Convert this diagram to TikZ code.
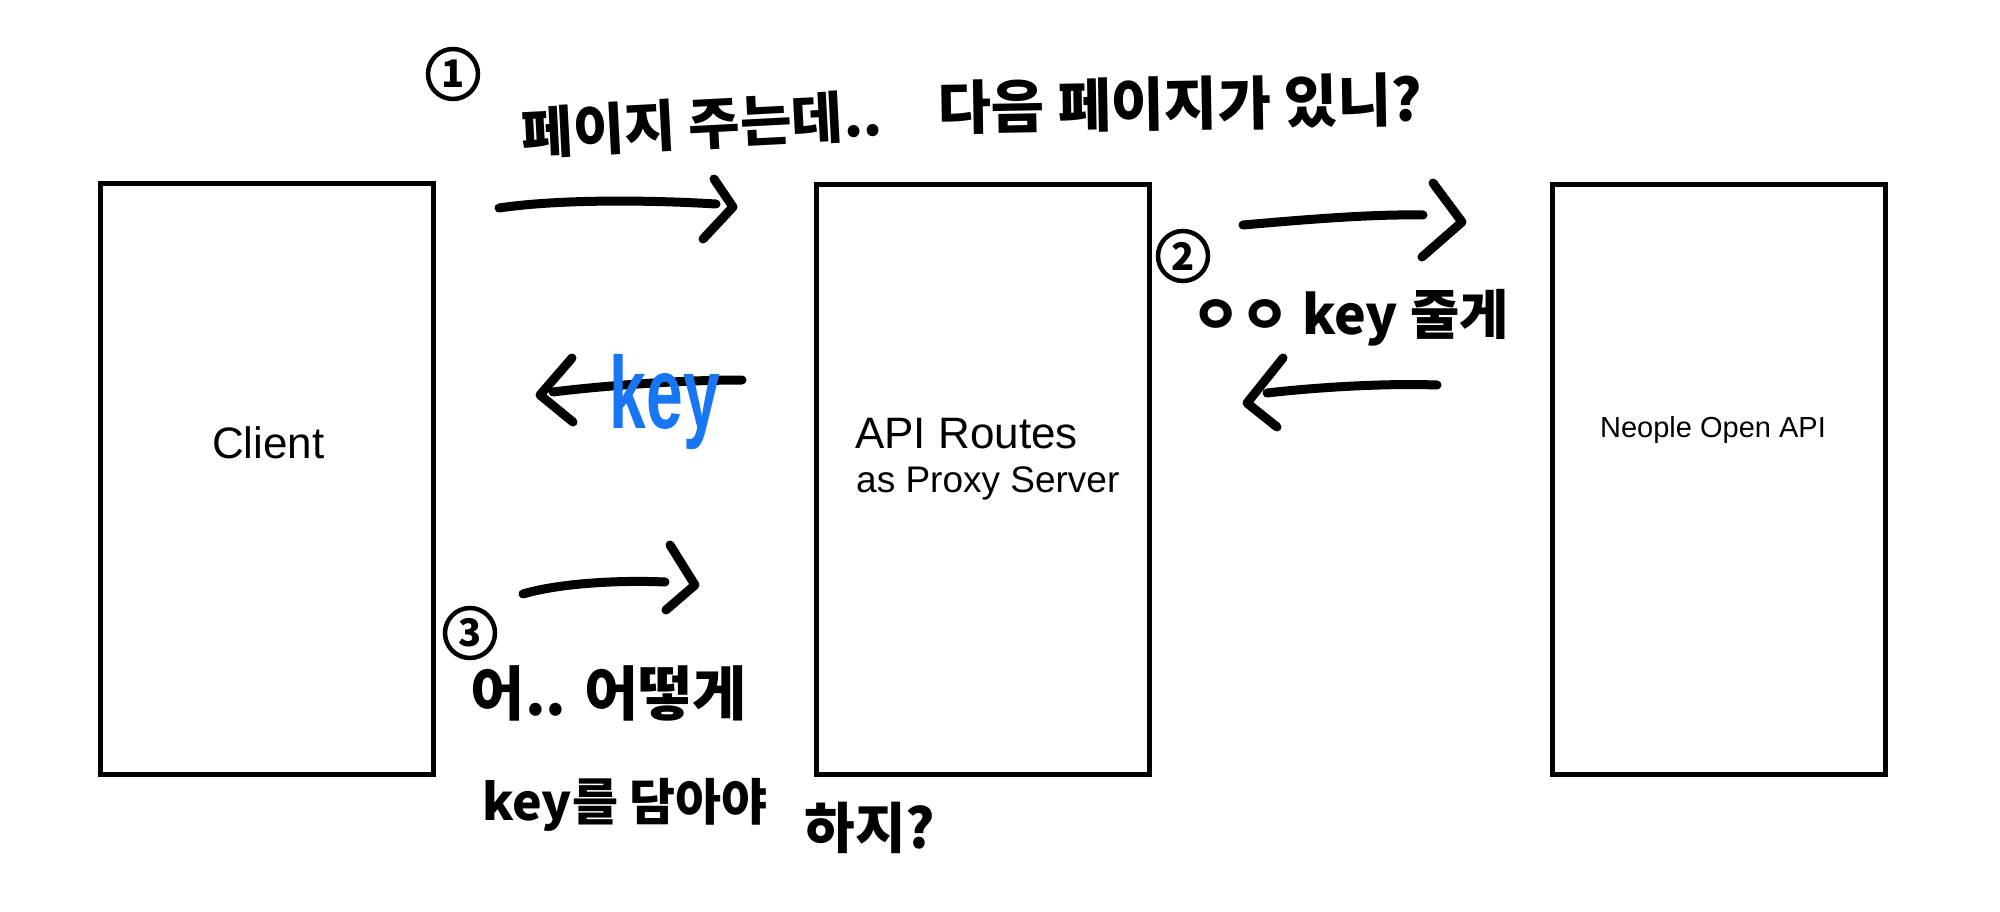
\documentclass[tikz,border=0pt]{standalone}
\usepackage{fontspec}
\setmainfont{Liberation Sans}
\newfontfamily\cjk{Noto Sans CJK KR}
\definecolor{penblue}{RGB}{24,118,242}
\begin{document}
\begin{tikzpicture}[x=1pt,y=-1pt,
  box/.style={draw,line width=5pt,minimum width=333pt,minimum height=590pt,inner sep=0pt},
  pen/.style={line width=9pt,line cap=round,line join=round},
  lbl/.style={inner sep=0pt,anchor=base west},
  hand/.style={font=\cjk\bfseries\fontsize{53}{60}\selectfont,inner sep=0pt},
  num/.style={circle,draw,line width=4.5pt,minimum size=50pt,inner sep=0pt,font=\cjk\bfseries\fontsize{38}{40}\selectfont}]
\useasboundingbox (0,0) rectangle (2000,912);
\fill[white] (0,0) rectangle (2000,912);

% boxes
\node[box] (client) at (267,479) {};
\node[box] (api) at (982.5,479.5) {};
\node[box] (neople) at (1718.5,479.5) {};

% labels
\node[lbl,font=\fontsize{44}{50}\selectfont] (clientlbl) at (212,458) {Client};
\node[lbl,font=\fontsize{44}{50}\selectfont] (apil1) at (855,448) {API Routes};
\node[lbl,font=\fontsize{37}{42}\selectfont] (apil2) at (856,492) {as Proxy Server};
\node[inner sep=0pt,anchor=base,font=\fontsize{29}{33}\selectfont] (neolbl) at (1713,437) {Neople Open API};

% step 1
\node[num] (n1) at (453,74) {1};
\node[hand,rotate=3,font=\cjk\bfseries\fontsize{56}{60}\selectfont] (t1a) at (702,124) {페이지 주는데..};
\node[hand,rotate=1,font=\cjk\bfseries\fontsize{58}{62}\selectfont] (t1b) at (1180,104) {다음 페이지가 있니?};
\coordinate (a1s) at (499,208);
\coordinate (a1e) at (716,204);
\coordinate (a1t) at (733,207);
\draw[pen] (a1s) .. controls (560,199) and (650,200) .. (a1e);
\draw[pen] (a1t) ++(-19,-28) -- (a1t) -- ++(-30,32);

% step 2
\node[num] (n2) at (1183,256) {2};
\node[hand,font=\cjk\bfseries\fontsize{53.5}{58}\selectfont] (t2) at (1350,318) {ㅇㅇ key 줄게};
\coordinate (a2s) at (1243,225);
\coordinate (a2e) at (1423,215);
\coordinate (a2t) at (1462,222);
\draw[pen] (a2s) .. controls (1300,220) and (1370,214) .. (a2e);
\draw[pen] (a2t) ++(-29,-39) -- (a2t) -- ++(-40,35);
\coordinate (a3s) at (1437,385);
\coordinate (a3e) at (1267,393);
\coordinate (a3t) at (1247,403);
\draw[pen] (a3s) .. controls (1380,383) and (1310,388) .. (a3e);
\draw[pen] (a3t) ++(36,-45) -- (a3t) -- ++(30,24);

% key returned to client
\coordinate (a4s) at (742,380);
\coordinate (a4e) at (553,392);
\coordinate (a4t) at (540,395);
\draw[pen] (a4s) .. controls (680,380) and (600,386) .. (a4e);
\draw[pen] (a4t) ++(32,-37) -- (a4t) -- ++(33,27);
\node[inner sep=0pt,text=penblue,font=\bfseries\fontsize{66}{70}\selectfont] (bluekey) at (665,402) {\scalebox{1}[1.55]{key}};

% step 3
\coordinate (a5s) at (523,594);
\coordinate (a5e) at (665,582);
\coordinate (a5t) at (695,585);
\draw[pen] (a5s) .. controls (560,583) and (620,580) .. (a5e);
\draw[pen] (a5t) ++(-25,-40) -- (a5t) -- ++(-29,25);
\node[num] (n3) at (470,633) {3};
\node[hand,font=\cjk\bfseries\fontsize{59}{62}\selectfont] (t3a) at (609,693) {어.. 어떻게};
\node[hand,font=\cjk\bfseries\fontsize{50}{56}\selectfont] (t3b) at (625,805) {key를 담아야};
\node[hand,font=\cjk\bfseries\fontsize{55}{60}\selectfont] (t3c) at (870,828) {하지?};
\end{tikzpicture}
\end{document}
